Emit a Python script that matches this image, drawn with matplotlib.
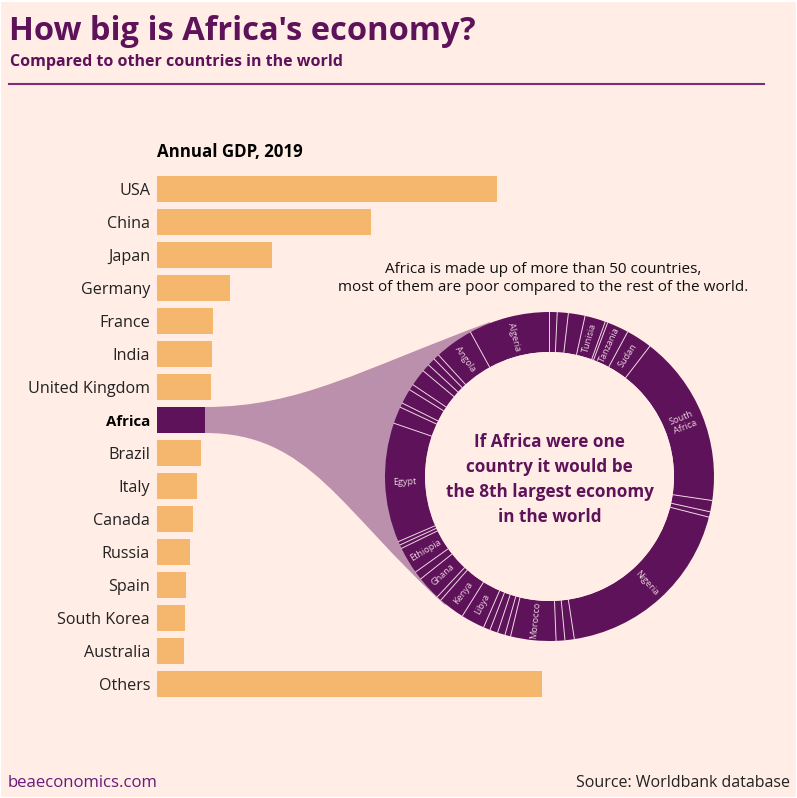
import math
import matplotlib
matplotlib.use('Agg')
import matplotlib.pyplot as plt
from matplotlib.patches import Circle, PathPatch, Rectangle
from matplotlib.path import Path

plt.rcParams['font.family'] = ['Open Sans', 'DejaVu Sans']

# Annual GDP, 2019 (trillion USD)
countries = ['USA', 'China', 'Japan', 'Germany', 'France', 'India', 'United Kingdom', 'Africa',
             'Brazil', 'Italy', 'Canada', 'Russia', 'Spain', 'South Korea', 'Australia', 'Others']
gdp = [21.4, 13.5, 7.25, 4.6, 3.5, 3.47, 3.43, 3.02, 2.77, 2.52, 2.27, 2.08, 1.83, 1.76, 1.70, 24.25]

# Share of Africa's GDP (degrees of the ring), counter-clockwise from the top
africa_names = ['Algeria', 'Angola', '', '', '', '', '', '', '', '', 'Egypt', '', '', 'Ethiopia', '',
                'Ghana', '', 'Kenya', 'Libya', '', '', '', '', 'Morocco', '', '', 'Nigeria', '', '',
                'South\nAfrica', 'Sudan', 'Tanzania', '', 'Tunisia', '', '', '']
africa_shares = [28.7, 13.7, 2.1, 2.8, 2.8, 6.0, 2.1, 5.3, 1.6, 6.0, 42.2, 1.3, 1.3, 9.6, 3.0,
                 8.5, 1.7, 9.3, 8.4, 2.4, 2.8, 2.7, 2.0, 16.0, 3.1, 3.3, 67.0, 1.9, 4.0,
                 60.8, 9.2, 7.7, 0.9, 7.3, 5.9, 3.9, 2.7]

BG = '#FFEDE6'
BAR = '#F4B76D'
PURPLE = '#5E1259'
BAND = '#BB90AC'
PALE = '#EBD3DF'
W, H = 797, 798

fig = plt.figure(figsize=(W / 100, H / 100), dpi=100, facecolor='white')


def px_axes(x0, y0, x1, y1, **kw):
    # axes box given in picture pixels, y going down
    return fig.add_axes([x0 / W, 1 - y1 / H, (x1 - x0) / W, (y1 - y0) / H], **kw)


# layer in picture pixels for background, titles and the band
page = px_axes(0, 0, W, H)
page.set_xlim(0, W)
page.set_ylim(H, 0)
page.axis('off')
page.add_patch(Rectangle((1, 2), W - 2, H - 3, fc=BG, ec='none'))

page.text(9, 31, "How big is Africa's economy?", color=PURPLE, fontsize=23.5, fontweight='bold', va='center')
page.text(10, 62, 'Compared to other countries in the world', color=PURPLE, fontsize=11.55, fontweight='bold', va='center')
page.plot([9, 764], [84, 84], color='#7B2D78', lw=1.5)
page.text(157, 152, 'Annual GDP, 2019', color='black', fontsize=12.2, fontweight='bold', va='center')
page.text(543, 278.5, 'Africa is made up of more than 50 countries,\nmost of them are poor compared to the rest of the world.',
          color='#111111', fontsize=11, ha='center', va='center', linespacing=1.3)
page.text(8, 783, 'beaeconomics.com', color='#6A1B7A', fontsize=12.1, va='center')
page.text(790, 783, 'Source: Worldbank database', color='#222222', fontsize=11.5, ha='right', va='center')

# band from the Africa bar to the ring
band = Path([(205, 407), (300, 407), (360, 370), (490, 322), (549, 476), (445, 605),
             (340, 510), (310, 433), (205, 433), (205, 407)],
            [Path.MOVETO, Path.CURVE4, Path.CURVE4, Path.CURVE4, Path.LINETO, Path.LINETO,
             Path.CURVE4, Path.CURVE4, Path.CURVE4, Path.CLOSEPOLY])
page.add_patch(PathPatch(band, fc=BAND, ec='none'))

# bars
ax = px_axes(157, 172.5, 157 + 15.87 * 26, 700.5)
ax.patch.set_alpha(0)
colors = [PURPLE if c == 'Africa' else BAR for c in countries]
ax.barh(countries, gdp, height=0.79, color=colors)
ax.set_ylim(len(countries) - 0.5, -0.5)
ax.set_xlim(0, 26)
ax.xaxis.set_visible(False)
for s in ax.spines.values():
    s.set_visible(False)
ax.tick_params(axis='y', length=0, pad=5, labelsize=11.6, labelcolor='#222222')
for label in ax.get_yticklabels():
    if label.get_text() == 'Africa':
        label.set_fontweight('bold')
        label.set_fontsize(10.8)
        label.set_color('black')

# ring
ring = px_axes(385, 312, 714, 641)
ring.patch.set_alpha(0)
inner = 124.5 / 164.5
wedges, _ = ring.pie(africa_shares, startangle=90, counterclock=True, colors=[PURPLE],
                     wedgeprops={'width': 1 - inner, 'linewidth': 0})
ring.set_xlim(-1, 1)
ring.set_ylim(-1, 1)
ring.add_patch(Circle((0, 0), inner, fc=BG, ec='none'))

for wedge, name in zip(wedges, africa_names):
    a = math.radians(wedge.theta2)
    ring.plot([inner * math.cos(a), math.cos(a)], [inner * math.sin(a), math.sin(a)], color=PALE, lw=0.7)
    if name:
        mid = (wedge.theta1 + wedge.theta2) / 2
        r = (1 + inner) / 2
        from_top = mid - 90
        rot = from_top - 90 if from_top < 180 else from_top + 90
        ring.text(r * math.cos(math.radians(mid)), r * math.sin(math.radians(mid)), name, color=PALE,
                  fontsize=6.6, rotation=rot, rotation_mode='anchor', ha='center', va='center', linespacing=1.1)

ring.text(0.0, -0.02, 'If Africa were one\ncountry it would be\nthe 8th largest economy\nin the world', color=PURPLE,
          fontsize=12.3, fontweight='bold', ha='center', va='center', linespacing=1.5)

fig.savefig('out.png', dpi=100, facecolor=fig.get_facecolor())
